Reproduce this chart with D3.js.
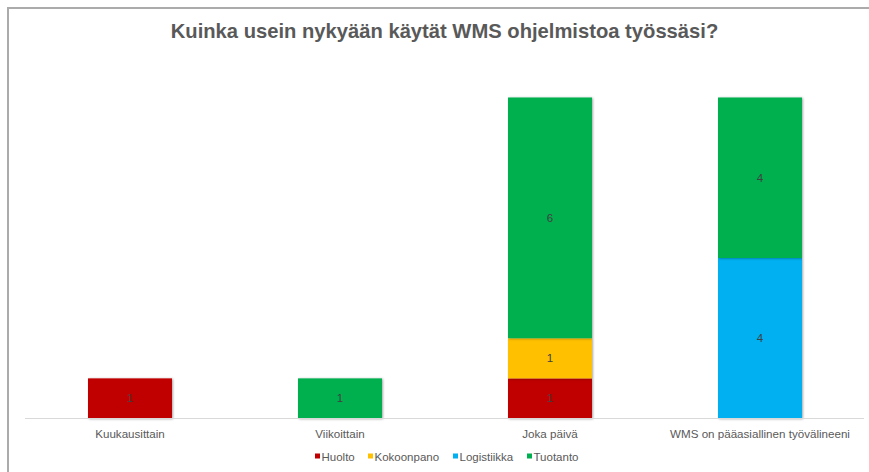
<!DOCTYPE html>
<html><head><meta charset="utf-8">
<script src="https://cdn.jsdelivr.net/npm/d3@7"></script>
<style>
html,body{margin:0;padding:0;background:#fff;}
svg{display:block;font-family:"Liberation Sans",Arial,sans-serif;}
</style></head>
<body>
<script>
const categories = ["Kuukausittain", "Viikoittain", "Joka päivä", "WMS on pääasiallinen työvälineeni"];
const seriesNames = ["Huolto", "Kokoonpano", "Logistiikka", "Tuotanto"];
const seriesColors = ["#C00000", "#FFC000", "#00B0F0", "#00B050"];
const huolto      = [1, 0, 1, 0];
const kokoonpano  = [0, 0, 1, 0];
const logistiikka = [0, 0, 0, 4];
const tuotanto    = [0, 1, 6, 4];
const title = "Kuinka usein nykyään käytät WMS ohjelmistoa työssäsi?";

const W = 869, H = 472;
const svg = d3.select("body").append("svg").attr("width", W).attr("height", H);

const defs = svg.append("defs");
const f = defs.append("filter").attr("id","sh").attr("x","-10%").attr("y","-10%").attr("width","130%").attr("height","130%");
f.append("feDropShadow").attr("dx",1).attr("dy",0.5).attr("stdDeviation",1).attr("flood-color","#000").attr("flood-opacity",0.35);

// frame
svg.append("path").attr("d", `M8,${H} V8 H${W}`).attr("fill","none").attr("stroke","#ababab").attr("stroke-width",2);

svg.append("text").attr("x", 444.5).attr("y", 38).attr("text-anchor","middle")
  .attr("font-size", 20.2).attr("font-weight","bold").attr("fill","#595959").text(title);

const table = categories.map((c,i)=>({cat:c, Huolto:huolto[i], Kokoonpano:kokoonpano[i], Logistiikka:logistiikka[i], Tuotanto:tuotanto[i]}));
const stack = d3.stack().keys(seriesNames)(table);

const x = d3.scaleBand().domain(categories).range([25, 865]).paddingInner(0.6).paddingOuter(0.3);
const y = d3.scaleLinear().domain([0, 8]).range([418.5, 97.5]);

const g = svg.append("g");
stack.forEach((layer, si) => {
  layer.forEach((d, i) => {
    if (d[1] - d[0] <= 0) return;
    g.append("rect").attr("x", x(categories[i])).attr("width", x.bandwidth())
      .attr("y", y(d[1])).attr("height", y(d[0]) - y(d[1]))
      .attr("fill", seriesColors[si]).attr("filter","url(#sh)");
  });
});
stack.forEach((layer, si) => {
  layer.forEach((d, i) => {
    const v = d[1] - d[0];
    if (v <= 0) return;
    g.append("text").attr("x", x(categories[i]) + x.bandwidth()/2).attr("y", (y(d[0]) + y(d[1]))/2 + 4)
      .attr("text-anchor","middle").attr("font-size", 11.5).attr("fill","#404040").text(v);
  });
});

// baseline
svg.append("line").attr("x1",25).attr("x2",864).attr("y1",418.5).attr("y2",418.5).attr("stroke","#d9d9d9").attr("stroke-width",1.2);

// category axis labels
const ax = svg.append("g").attr("transform","translate(0,418.5)")
  .call(d3.axisBottom(x).tickSize(0).tickPadding(11));
ax.select(".domain").remove();
ax.selectAll("text").attr("font-size", 11.6).attr("fill","#595959").attr("font-family","Liberation Sans, Arial, sans-serif");

// legend
const legX = [315, 368, 453, 527];
const lg = svg.append("g");
seriesNames.forEach((s, i) => {
  lg.append("rect").attr("x", legX[i]).attr("y", 453.5).attr("width", 5).attr("height", 5).attr("fill", seriesColors[i]);
  lg.append("text").attr("x", legX[i] + 6.5).attr("y", 460.5).attr("font-size", 11.5).attr("fill","#595959").text(s);
});
</script>
</body></html>
